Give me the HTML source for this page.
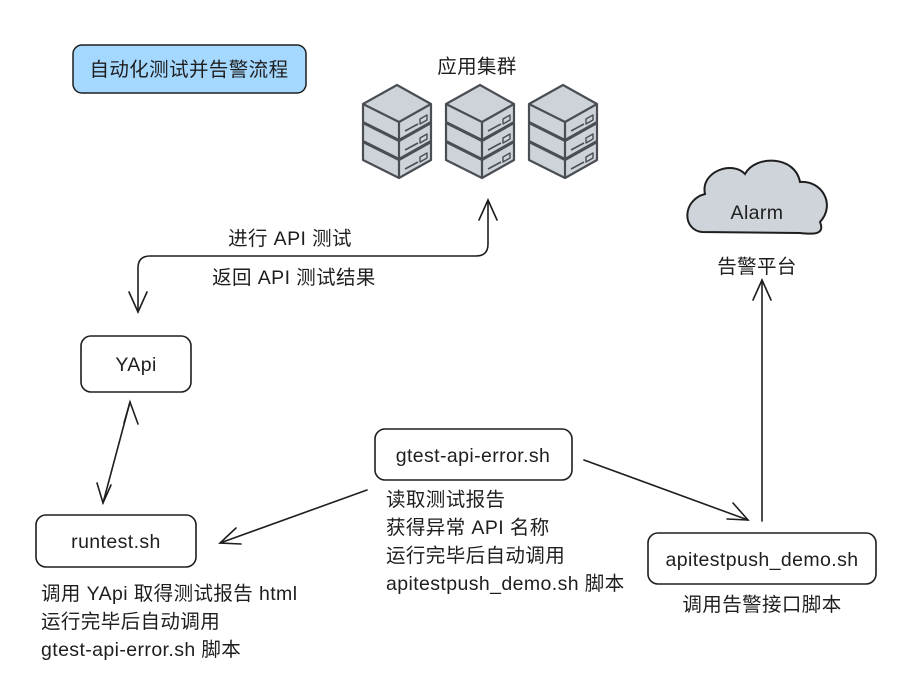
<!DOCTYPE html>
<html><head><meta charset="utf-8"><style>
body{margin:0;background:#fff;}
svg{display:block;}
text{font-family:"Liberation Sans","Noto Sans CJK SC",sans-serif;font-size:19.5px;fill:#1e1e1e;letter-spacing:0.4px;}
</style></head><body>
<svg width="912" height="692" viewBox="0 0 912 692" xmlns="http://www.w3.org/2000/svg">
<defs>
<g id="unit" stroke="#4a4e54" stroke-width="2.2" stroke-linejoin="round" fill="#ced3da">
  <path d="M0,19 L34,0 L68,19 L68,37 L36,55 L0,37 Z"/>
  <path d="M0,19 L36,37 L68,19" fill="none"/>
  <path d="M36,37 L36,55" fill="none"/>
  <path d="M42,46 L55,39" fill="none" stroke-width="1.6"/>
  <path d="M57,34 L64,30 L64,35 L57,39 Z" fill="none" stroke-width="1.4"/>
</g>
<g id="stack">
  <use href="#unit" y="38"/>
  <use href="#unit" y="19"/>
  <use href="#unit" y="0"/>
</g>
</defs>

<rect x="73" y="45" width="233" height="48" rx="9" fill="#a5d8ff" stroke="#1e1e1e" stroke-width="1.5"/>
<text x="189" y="76" text-anchor="middle">自动化测试并告警流程</text>

<text x="477" y="73" text-anchor="middle">应用集群</text>
<use href="#stack" x="363" y="85"/>
<use href="#stack" x="446" y="85"/>
<use href="#stack" x="529" y="85"/>

<path d="M702,232 C682,230 682,200 705,194 C700,172 732,160 745,174 C755,155 795,155 800,182 C822,180 836,205 820,222 C826,236 810,234 800,233 Z" fill="#ced4da" stroke="#1e1e1e" stroke-width="2"/>
<text x="757" y="219" text-anchor="middle">Alarm</text>
<text x="757" y="273" text-anchor="middle">告警平台</text>

<g fill="none" stroke="#1e1e1e" stroke-width="1.6" stroke-linecap="round">
  <path d="M138,312 L138,268 Q138,256 150,256 L476,256 Q488,256 488,244 L488,200"/>
  <path d="M129,292 L138,312 L147,292"/>
  <path d="M479,220 L488,200 L497,220"/>
  <path d="M130,402 L103,503"/>
  <path d="M124,423 L130,402 L138,424"/>
  <path d="M97,483 L103,503 L111,485"/>
  <path d="M367,490 L220,543"/>
  <path d="M236,528 L220,543 L241,544"/>
  <path d="M584,460 L748,520"/>
  <path d="M727,519 L748,520 L733,503"/>
  <path d="M762,521 L762,280"/>
  <path d="M753,300 L762,280 L771,300"/>
</g>

<text x="290" y="245" text-anchor="middle">进行 API 测试</text>
<text x="294" y="284" text-anchor="middle">返回 API 测试结果</text>

<g fill="#fff" stroke="#1e1e1e" stroke-width="1.6">
  <rect x="81" y="336" width="110" height="56" rx="10"/>
  <rect x="36" y="515" width="160" height="52" rx="10"/>
  <rect x="375" y="429" width="197" height="51" rx="10"/>
  <rect x="648" y="533" width="228" height="51" rx="10"/>
</g>
<text x="136" y="371" text-anchor="middle">YApi</text>
<text x="116" y="548" text-anchor="middle">runtest.sh</text>
<text x="473" y="462" text-anchor="middle">gtest-api-error.sh</text>
<text x="762" y="566" text-anchor="middle">apitestpush_demo.sh</text>

<text x="386" y="506">读取测试报告</text>
<text x="386" y="534">获得异常 API 名称</text>
<text x="386" y="562">运行完毕后自动调用</text>
<text x="386" y="590">apitestpush_demo.sh 脚本</text>

<text x="41" y="600">调用 YApi 取得测试报告 html</text>
<text x="41" y="628">运行完毕后自动调用</text>
<text x="41" y="656">gtest-api-error.sh 脚本</text>

<text x="762" y="611" text-anchor="middle">调用告警接口脚本</text>
</svg>
</body></html>
